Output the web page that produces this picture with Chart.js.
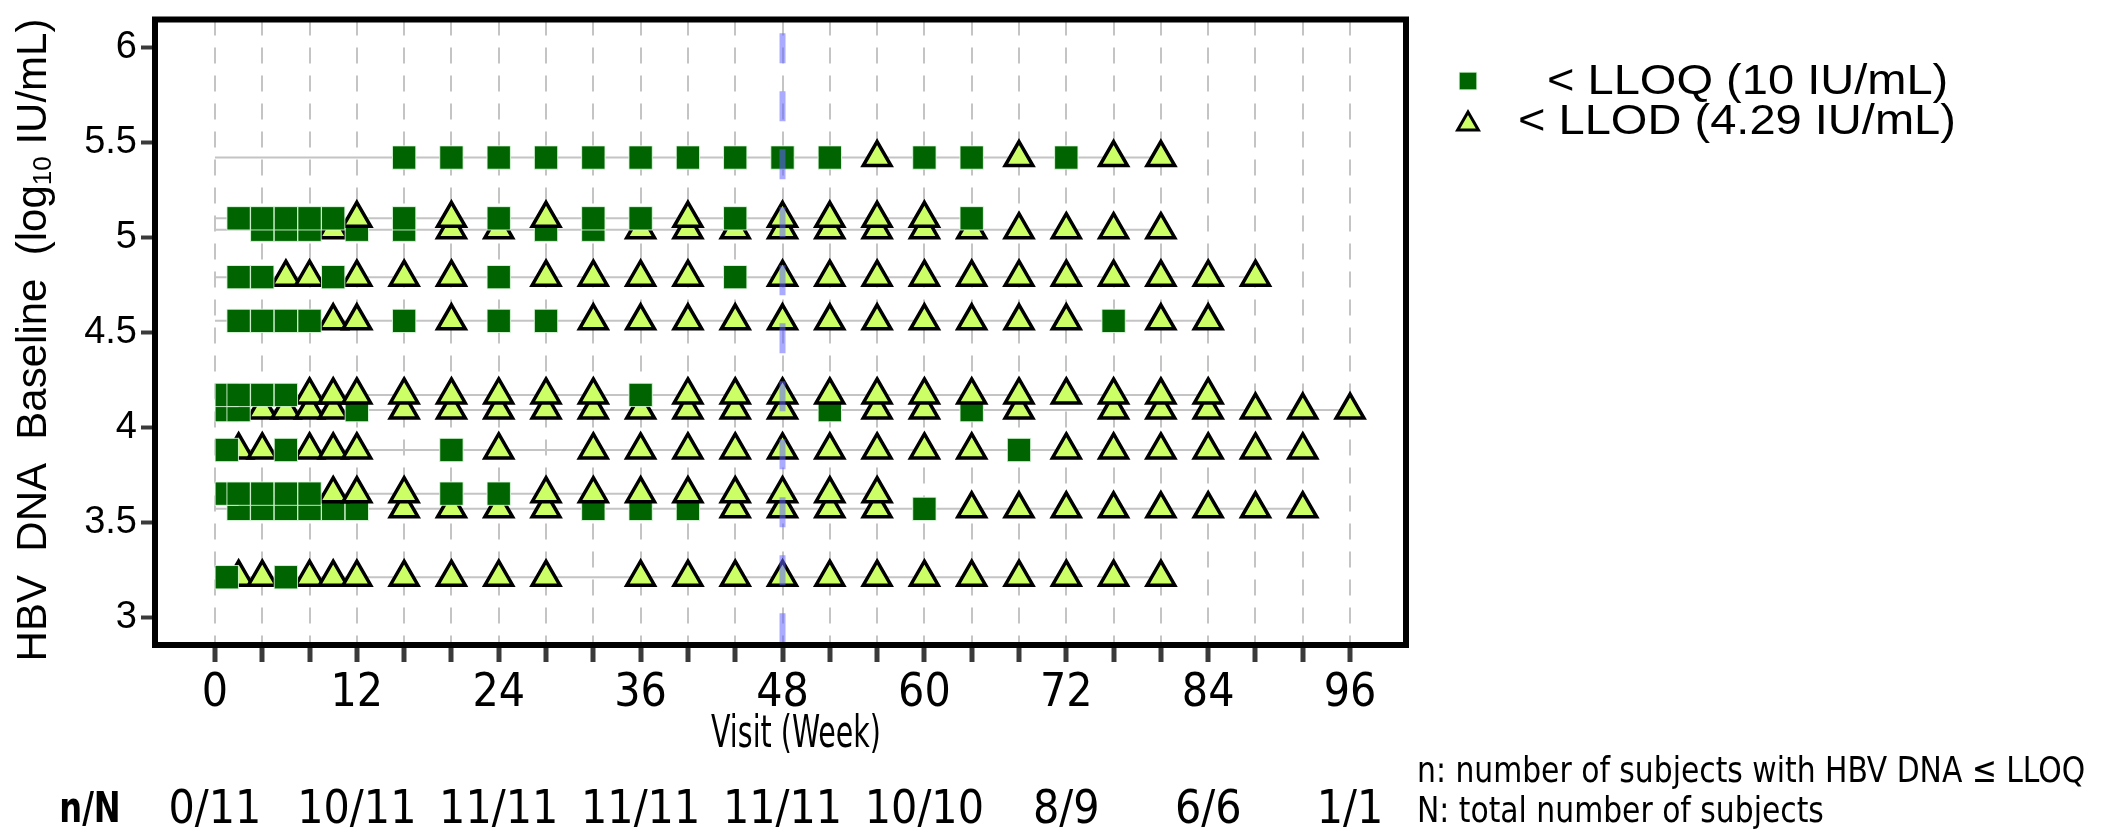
<!DOCTYPE html>
<html>
<head>
<meta charset="utf-8">
<script src="https://cdn.jsdelivr.net/npm/chart.js@4.4.1/dist/chart.umd.min.js"></script>
<style>
  html, body { margin: 0; padding: 0; background: #fff; }
</style>
</head>
<body>
<canvas id="hbvChart" width="2106" height="835"></canvas>
<script>
// one entry per subject, top row (highest baseline) first
const baseline = [5.42, 5.10, 5.04, 4.79, 4.56, 4.17, 4.09, 3.88, 3.65, 3.57, 3.21];
const lastVisit = [80, 64, 80, 88, 84, 84, 96, 92, 56, 92, 80];

// visits with HBV DNA < LLOQ (squares)
const lloqWeeks = [
    [16, 20, 24, 28, 32, 36, 40, 44, 48, 52, 60, 64, 72],
    [2, 4, 6, 8, 10, 16, 24, 32, 36, 44, 64],
    [4, 6, 8, 12, 16, 28, 32],
    [2, 4, 10, 24, 44],
    [2, 4, 6, 8, 16, 24, 28, 76],
    [1, 2, 4, 6, 36],
    [1, 2, 12, 52, 64],
    [1, 6, 20, 68],
    [1, 2, 4, 6, 8, 20, 24],
    [2, 4, 6, 8, 10, 12, 32, 36, 40, 60],
    [1, 6]
];

// visits with HBV DNA < LLOD (triangles)
const llodWeeks = [
    [56, 68, 76, 80],
    [12, 20, 28, 40, 48, 52, 56, 60],
    [10, 20, 24, 36, 40, 44, 48, 52, 56, 60, 64, 68, 72, 76, 80],
    [6, 8, 12, 16, 20, 28, 32, 36, 40, 48, 52, 56, 60, 64, 68, 72, 76, 80, 84, 88],
    [10, 12, 20, 32, 36, 40, 44, 48, 52, 56, 60, 64, 68, 72, 80, 84],
    [8, 10, 12, 16, 20, 24, 28, 32, 40, 44, 48, 52, 56, 60, 64, 68, 72, 76, 80, 84],
    [4, 6, 8, 10, 16, 20, 24, 28, 32, 36, 40, 44, 48, 56, 60, 68, 76, 80, 84, 88, 92, 96],
    [2, 4, 8, 10, 12, 24, 32, 36, 40, 44, 48, 52, 56, 60, 64, 72, 76, 80, 84, 88, 92],
    [10, 12, 16, 28, 32, 36, 40, 44, 48, 52, 56],
    [16, 20, 24, 28, 44, 48, 52, 56, 64, 68, 72, 76, 80, 84, 88, 92],
    [2, 4, 8, 10, 12, 16, 20, 24, 28, 36, 40, 44, 48, 52, 56, 60, 64, 68, 72, 76, 80]
];

const gridWeeks = [0, 4, 8, 12, 16, 20, 24, 28, 32, 36, 40, 44, 48, 52, 56, 60, 64, 68, 72, 76, 80, 84, 88, 92, 96];
const weekLabels = [0, 12, 24, 36, 48, 60, 72, 84, 96];
const yTicks = [3, 3.5, 4, 4.5, 5, 5.5, 6];
const nWeeks = [0, 12, 24, 36, 48, 60, 72, 84, 96];
const nLabels = ['0/11', '10/11', '11/11', '11/11', '11/11', '10/10', '8/9', '6/6', '1/1'];
const refWeek = 48;

const SQ_COLOR = '#006400';
const TRI_COLOR = '#ccff66';
const NARROW = '"Liberation Sans Narrow", "DejaVu Sans Condensed", Roboto, sans-serif';
const ARIAL = '"Liberation Sans", Arial, sans-serif';

const datasets = [];

baseline.forEach(function (b, i) {
    datasets.push({
        data: [{x: 0, y: b}, {x: lastVisit[i], y: b}],
        showLine: true,
        borderColor: '#c4c4c4',
        borderWidth: 2,
        pointRadius: 0,
        order: 100
    });
    datasets.push({
        data: llodWeeks[i].map(w => ({x: w, y: b})),
        pointStyle: 'triangle',
        pointRadius: 16,
        backgroundColor: TRI_COLOR,
        borderColor: '#000',
        pointBorderWidth: 3.5,
        order: 2 * i + 2
    });
    datasets.push({
        data: lloqWeeks[i].map(w => ({x: w, y: b})),
        pointStyle: 'rect',
        pointRadius: 16.5,
        backgroundColor: SQ_COLOR,
        borderColor: 'rgba(225,255,225,0.85)',
        pointBorderWidth: 1,
        order: 2 * i + 1
    });
});

// week 48 reference line
datasets.push({
    data: [{x: refWeek, y: 6.074}, {x: refWeek, y: 2.85}],
    showLine: true,
    borderColor: 'rgba(100,100,255,0.55)',
    borderWidth: 6,
    borderDash: [30, 28],
    pointRadius: 0,
    order: 0
});

function drawText(ctx, text, x, y, font, align, sx) {
    ctx.save();
    ctx.font = font;
    ctx.textAlign = align;
    ctx.textBaseline = 'middle';
    ctx.fillStyle = '#000';
    ctx.translate(x, y);
    ctx.scale(sx, 1);
    ctx.fillText(text, 0, 0);
    ctx.restore();
}

const extras = {
    id: 'extras',
    afterDatasetsDraw(chart) {
        const {ctx, chartArea: a} = chart;
        ctx.save();
        ctx.lineWidth = 6;
        ctx.strokeStyle = '#000';
        ctx.strokeRect(a.left, a.top, a.right - a.left, a.bottom - a.top);
        ctx.restore();
    },
    afterDraw(chart) {
        const ctx = chart.ctx;
        const xs = chart.scales.x;

        drawText(ctx, 'Visit (Week)', 796, 736, '44px ' + NARROW, 'center', 0.72);

        // n/N row
        drawText(ctx, 'n/N', 90, 811, 'bold 42px ' + NARROW, 'center', 0.85);
        nWeeks.forEach((w, i) => drawText(ctx, nLabels[i], xs.getPixelForValue(w), 811, '46px ' + NARROW, 'center', 1));

        // footnotes
        drawText(ctx, 'n: number of subjects with HBV DNA \u2264 LLOQ', 1417, 773, '36px ' + NARROW, 'left', 0.92);
        drawText(ctx, 'N: total number of subjects', 1417, 813, '36px ' + NARROW, 'left', 0.92);

        // legend
        ctx.save();
        ctx.fillStyle = SQ_COLOR;
        ctx.strokeStyle = 'rgba(225,255,225,0.85)';
        ctx.lineWidth = 1;
        Chart.helpers.drawPoint(ctx, {pointStyle: 'rect', radius: 12.5, borderWidth: 1}, 1468, 81);
        ctx.fillStyle = TRI_COLOR;
        ctx.strokeStyle = '#000';
        ctx.lineWidth = 3;
        Chart.helpers.drawPoint(ctx, {pointStyle: 'triangle', radius: 12, borderWidth: 3}, 1468, 124);
        ctx.restore();
        drawText(ctx, '< LLOQ (10 IU/mL)', 1547, 82, '42px ' + ARIAL, 'left', 1.12);
        drawText(ctx, '< LLOD (4.29 IU/mL)', 1518, 122, '42px ' + ARIAL, 'left', 1.12);

        // y title with subscript
        ctx.save();
        ctx.fillStyle = '#000';
        ctx.textBaseline = 'middle';
        ctx.textAlign = 'left';
        ctx.translate(34, 340);
        ctx.rotate(-Math.PI / 2);
        const parts = [['HBV  DNA  Baseline  (log', 42, 0], ['10', 26, 10], [' IU/mL)', 42, 0]];
        let total = 0;
        parts.forEach(p => { ctx.font = p[1] + 'px ' + ARIAL; total += ctx.measureText(p[0]).width; });
        let x = -total / 2;
        parts.forEach(p => {
            ctx.font = p[1] + 'px ' + ARIAL;
            ctx.fillText(p[0], x, p[2]);
            x += ctx.measureText(p[0]).width;
        });
        ctx.restore();
    }
};

const ctx = document.getElementById('hbvChart').getContext('2d');

new Chart(ctx, {
    type: 'scatter',
    data: {datasets: datasets},
    options: {
        responsive: false,
        animation: false,
        layout: {padding: {left: 0, right: 700, top: 18, bottom: 0}},
        plugins: {
            legend: {display: false},
            tooltip: {enabled: false}
        },
        scales: {
            x: {
                type: 'linear',
                min: -5.07,
                max: 100.73,
                afterBuildTicks: axis => { axis.ticks = gridWeeks.map(v => ({value: v})); },
                afterFit: axis => {
                    axis.height = 190;
                    axis.paddingLeft = 0;
                    axis.paddingRight = 0;
                },
                ticks: {
                    autoSkip: false,
                    maxRotation: 0,
                    padding: 4,
                    color: '#000',
                    font: {family: NARROW, size: 46},
                    callback: v => weekLabels.includes(v) ? String(v) : ''
                },
                grid: {color: '#c4c4c4', lineWidth: 2, tickLength: 17, tickColor: '#3a3a3a', tickWidth: 5},
                border: {display: false, dash: [16, 12]}
            },
            y: {
                min: 2.853,
                max: 6.147,
                afterBuildTicks: axis => { axis.ticks = yTicks.map(v => ({value: v})); },
                afterFit: axis => {
                    axis.width = 155;
                    axis.paddingTop = 0;
                    axis.paddingBottom = 0;
                },
                ticks: {
                    padding: 4,
                    color: '#000',
                    font: {family: ARIAL, size: 38},
                    callback: v => String(v)
                },
                grid: {drawOnChartArea: false, tickLength: 14, tickColor: '#3a3a3a', tickWidth: 4},
                border: {display: false}
            }
        }
    },
    plugins: [extras]
});
</script>
</body>
</html>
